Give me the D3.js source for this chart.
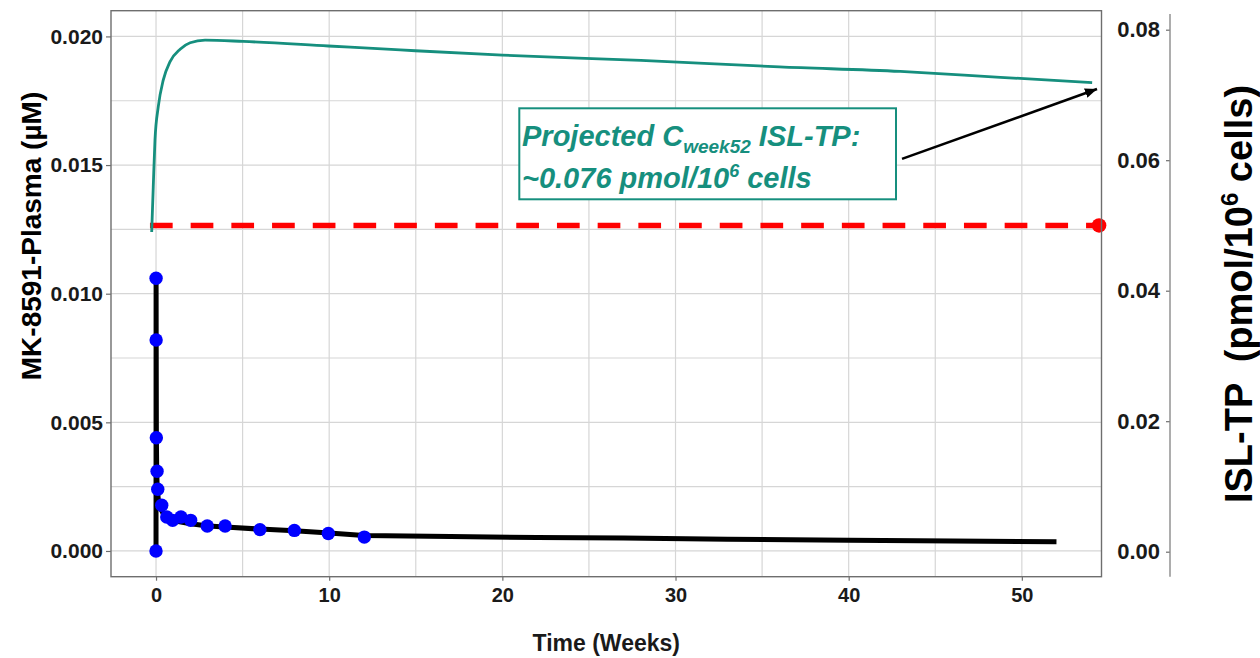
<!DOCTYPE html>
<html><head><meta charset="utf-8">
<script src="https://cdn.jsdelivr.net/npm/d3@7"></script>
<style>
body{margin:0;background:#fff;}
svg{display:block;font-family:"Liberation Sans",Arial,sans-serif;}
</style>
</head><body>
<svg id="chart" width="1260" height="658"></svg>
<script>
// ---------- data ----------
const obsTimeWeeks = [0, 0.003, 0.006, 0.018, 0.06, 0.1, 0.33, 0.62, 0.96, 1.44, 2.0, 2.96, 3.99, 6.0, 7.99, 9.95, 12.03];
const obsPlasma    = [0, 0.0106, 0.0082, 0.0044, 0.0031, 0.0024, 0.00178, 0.00132, 0.00119, 0.00132, 0.00119, 0.00097, 0.00097, 0.00083, 0.0008, 0.00068, 0.00054];

const modelTimeWeeks = [0, 0.004, 0.01, 0.02, 0.04, 0.07, 0.15, 0.3, 0.5, 0.8, 1.2, 2, 3, 4, 6, 8, 10, 12, 17, 22, 27, 33, 40, 46, 52];
const modelPlasma    = [0, 0.0106, 0.0080, 0.0045, 0.0031, 0.0024, 0.0019, 0.0016, 0.00135, 0.00122, 0.00115, 0.00106, 0.00097, 0.00093, 0.00085, 0.00079, 0.0007, 0.0006, 0.00056, 0.00052, 0.0005, 0.00046, 0.00042, 0.00039, 0.00036];

const islTimeWeeks = [-0.25, -0.16, -0.06, 0.13, 0.42, 0.81, 1.39, 1.97, 2.83, 5.04, 9.95, 14.1, 20, 28, 36, 42.98, 48.76, 54.06];
const islTP        = [0.0490, 0.0559, 0.0631, 0.0682, 0.0723, 0.0751, 0.0770, 0.0780, 0.0784, 0.0782, 0.0775, 0.0769, 0.0761, 0.0753, 0.0743, 0.0736, 0.0727, 0.0719];

const thresholdISL = 0.05;
const thresholdWeeks = [-0.35, 54.46];
const arrowStart = [43.08, 0.0602];
const arrowEnd   = [54.34, 0.0709];

const xTicks = [0, 10, 20, 30, 40, 50];
const xMinor = [5, 15, 25, 35, 45];
const yLeftTicks = [0, 0.005, 0.010, 0.015, 0.020];
const yLeftMinor = [0.0025, 0.0075, 0.0125, 0.0175];
const yRightTicks = [0, 0.02, 0.04, 0.06, 0.08];

// ---------- layout ----------
const svg = d3.select("#chart");
const P = {left:111, right:1101.5, top:10.7, bottom:576.7};
const x  = d3.scaleLinear().domain([-2.6, 54.6]).range([P.left, P.right]);
const yL = d3.scaleLinear().domain([-0.001, 0.021]).range([P.bottom, P.top]);
const yR = d3.scaleLinear().domain([0, 0.08]).range([551.7, 29.7]);

const teal = "#168f7e";
const gridCol = "#d6d6d6";

// grid
const g = svg.append("g");
g.selectAll(".vx").data(xTicks.concat(xMinor)).join("line")
  .attr("x1", d=>x(d)).attr("x2", d=>x(d)).attr("y1", P.top).attr("y2", P.bottom)
  .attr("stroke", gridCol).attr("stroke-width", 1.2);
g.selectAll(".hy").data(yLeftTicks.concat(yLeftMinor)).join("line")
  .attr("y1", d=>yL(d)).attr("y2", d=>yL(d)).attr("x1", P.left).attr("x2", P.right)
  .attr("stroke", gridCol).attr("stroke-width", 1.2);

// threshold dashed line
svg.append("line")
  .attr("x1", x(thresholdWeeks[0])).attr("x2", x(thresholdWeeks[1]))
  .attr("y1", yR(thresholdISL)).attr("y2", yR(thresholdISL))
  .attr("stroke", "#ff0000").attr("stroke-width", 5.5).attr("stroke-dasharray", "22.7,18");

// model line
svg.append("path")
  .datum(modelTimeWeeks.map((t,i)=>[t, modelPlasma[i]]))
  .attr("fill","none").attr("stroke","#000").attr("stroke-width",5)
  .attr("stroke-linejoin","round")
  .attr("d", d3.line().x(d=>x(d[0])).y(d=>yL(d[1])));

// observed points
svg.selectAll(".obs").data(obsTimeWeeks.map((t,i)=>[t, obsPlasma[i]])).join("circle")
  .attr("cx", d=>x(d[0])).attr("cy", d=>yL(d[1])).attr("r", 6.7).attr("fill", "#0000ff");

// ISL-TP line
svg.append("path")
  .datum(islTimeWeeks.map((t,i)=>[t, islTP[i]]))
  .attr("fill","none").attr("stroke",teal).attr("stroke-width",2.8)
  .attr("d", d3.line().curve(d3.curveMonotoneX).x(d=>x(d[0])).y(d=>yR(d[1])));

// threshold end dot
svg.append("circle").attr("cx", x(thresholdWeeks[1])).attr("cy", yR(thresholdISL))
  .attr("r", 7.3).attr("fill", "#ff0000");

// annotation box
svg.append("rect").attr("x", 519.3).attr("y", 108.3).attr("width", 376.7).attr("height", 91)
  .attr("fill","#fff").attr("stroke", teal).attr("stroke-width", 2);
const ann = svg.append("text").attr("fill", teal).attr("font-weight","bold").attr("font-style","italic")
  .attr("font-size", 29).style("white-space","pre");
const l1 = ann.append("tspan").attr("x", 522).attr("y", 146);
l1.append("tspan").text("Projected C");
ann.append("tspan").attr("font-size", 19).attr("dy", 7).text("week52");
ann.append("tspan").attr("dy", -7).text(" ISL-TP:");
ann.append("tspan").attr("x", 522).attr("y", 188).text("~0.076 pmol/10");
ann.append("tspan").attr("font-size", 18).attr("dy", -11).text("6");
ann.append("tspan").attr("dy", 11).text(" cells");

// arrow
const defs = svg.append("defs");
defs.append("marker").attr("id","ah").attr("viewBox","0 0 12 10").attr("refX",12).attr("refY",5)
  .attr("markerWidth",12).attr("markerHeight",10).attr("markerUnits","userSpaceOnUse").attr("orient","auto")
  .append("path").attr("d","M0,0 L12,5 L0,10 Z").attr("fill","#000");
svg.append("line")
  .attr("x1", x(arrowStart[0])).attr("y1", yR(arrowStart[1]))
  .attr("x2", x(arrowEnd[0])).attr("y2", yR(arrowEnd[1]))
  .attr("stroke","#000").attr("stroke-width",2.6).attr("marker-end","url(#ah)");

// panel border
svg.append("rect").attr("x", P.left).attr("y", P.top).attr("width", P.right-P.left).attr("height", P.bottom-P.top)
  .attr("fill","none").attr("stroke","#6e6e6e").attr("stroke-width",1.4);

// axes
function styleAxis(sel, fs){
  sel.select(".domain").remove();
  sel.selectAll(".tick line").attr("stroke","#6e6e6e").attr("stroke-width",1.2);
  sel.selectAll(".tick text").attr("fill","#1a1a1a").attr("font-size",fs).attr("font-weight","bold")
    .attr("font-family",'"Liberation Sans",Arial,sans-serif');
}
const ax = svg.append("g").attr("transform",`translate(0,${P.bottom})`)
  .call(d3.axisBottom(x).tickValues(xTicks).tickFormat(d3.format("d")).tickSize(4).tickPadding(7));
styleAxis(ax, 20);
const ayl = svg.append("g").attr("transform",`translate(${P.left},0)`)
  .call(d3.axisLeft(yL).tickValues(yLeftTicks).tickFormat(d3.format(".3f")).tickSize(5).tickPadding(3));
styleAxis(ayl, 21);
const ayr = svg.append("g").attr("transform",`translate(1170,0)`)
  .call(d3.axisLeft(yR).tickValues(yRightTicks).tickFormat(d3.format(".2f")).tickSize(4).tickPadding(6));
styleAxis(ayr, 22);
svg.append("line").attr("x1",1170).attr("x2",1170).attr("y1",14).attr("y2",P.bottom)
  .attr("stroke","#8a8a8a").attr("stroke-width",1.4);

// axis titles
svg.append("text").attr("x", (P.left+P.right)/2).attr("y", 651).attr("text-anchor","middle")
  .attr("font-size",23).attr("font-weight","bold").attr("fill","#1a1a1a").text("Time (Weeks)");
svg.append("text").attr("transform","translate(41,236) rotate(-90)").attr("text-anchor","middle")
  .attr("font-size",28).attr("font-weight","bold").attr("fill","#000").text("MK-8591-Plasma (µM)");
const rt = svg.append("text").attr("transform","translate(1252,294) rotate(-90)").attr("text-anchor","middle")
  .attr("font-size",38).attr("font-weight","bold").attr("fill","#000").style("white-space","pre");
rt.append("tspan").text("ISL-TP  (pmol/10");
rt.append("tspan").attr("font-size",24).attr("dy",-14).text("6");
rt.append("tspan").attr("dy",14).text(" cells)");
</script>
</body></html>
